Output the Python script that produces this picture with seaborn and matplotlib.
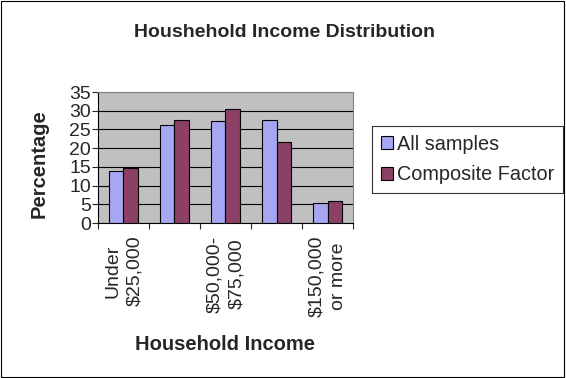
import numpy as np
import pandas as pd
import matplotlib
matplotlib.use("Agg")
import matplotlib.pyplot as plt
import seaborn as sns
from matplotlib.patches import Rectangle

# data
categories = ["Under\n$25,000", "$25,000-\n$50,000", "$50,000-\n$75,000",
              "$75,000-\n$150,000", "$150,000\nor more"]
shown_labels = ["Under\n$25,000", "", "$50,000-\n$75,000", "", "$150,000\nor more"]
all_samples = [13.8, 26.3, 27.2, 27.4, 5.4]
composite = [14.6, 27.4, 30.4, 21.6, 5.9]
series_names = ["All samples", "Composite Factor"]

df = pd.DataFrame({
    "Income": categories * 2,
    "Percentage": all_samples + composite,
    "Series": [series_names[0]] * 5 + [series_names[1]] * 5,
})

sns.set_style("white")
plt.rcParams["font.family"] = ["Liberation Sans", "DejaVu Sans"]

fig = plt.figure(figsize=(5.66, 3.78), dpi=100)
ax = fig.add_axes([0.1731, 0.41, 0.4506, 0.3466])
ax.set_facecolor("#C0C0C0")

sns.barplot(data=df, x="Income", y="Percentage", hue="Series",
            palette=["#9999FF", "#993366"], width=0.58, gap=0,
            edgecolor="black", linewidth=0.8, ax=ax, zorder=3)

ax.set_ylim(0, 35)
ax.set_xlim(-0.5, 4.5)
ax.set_yticks(range(0, 36, 5))
ax.yaxis.grid(True, color="black", linewidth=0.8, zorder=0)
ax.set_axisbelow(True)
ax.tick_params(axis="y", labelsize=14, length=4, direction="out", left=True, pad=1)

# category ticks on boundaries, labels in the middle
ax.set_xticks(np.arange(-0.5, 5, 1))
ax.set_xticklabels([])
ax.tick_params(axis="x", length=4, direction="out", bottom=True)
ax.set_xticks(range(5), minor=True)
ax.set_xticklabels(shown_labels, minor=True, rotation=90, fontsize=14,
                   va="top", ha="center", linespacing=1.35)
ax.tick_params(axis="x", which="minor", length=0, pad=9)

for s in ["left", "bottom"]:
    ax.spines[s].set_color("black")
    ax.spines[s].set_linewidth(0.8)
for s in ["top", "right"]:
    ax.spines[s].set_color("#808080")
    ax.spines[s].set_linewidth(0.8)

ax.set_xlabel("Household Income", fontsize=14.5, fontweight="bold", labelpad=13)
ax.set_ylabel("Percentage", fontsize=14.5, fontweight="bold")
ax.yaxis.set_label_coords(-0.195, 0.45)

handles, labels = ax.get_legend_handles_labels()
ax.get_legend().remove()
leg = fig.legend(handles, labels, loc="center left", bbox_to_anchor=(0.657, 0.578),
                 fontsize=14.3, frameon=True, fancybox=False, edgecolor="black",
                 handlelength=0.6, handleheight=0.6, handletextpad=0.2,
                 borderpad=0.45, labelspacing=0.6, borderaxespad=0)
leg.get_frame().set_linewidth(0.8)

fig.text(0.502, 0.915, "Houshehold Income Distribution", ha="center", va="center",
         fontsize=14, fontweight="bold")

fig.patches.append(Rectangle((0.002, 0.003), 0.995, 0.994, transform=fig.transFigure,
                             fill=False, edgecolor="black", linewidth=0.8))

fig.savefig("out.png", dpi=100)
